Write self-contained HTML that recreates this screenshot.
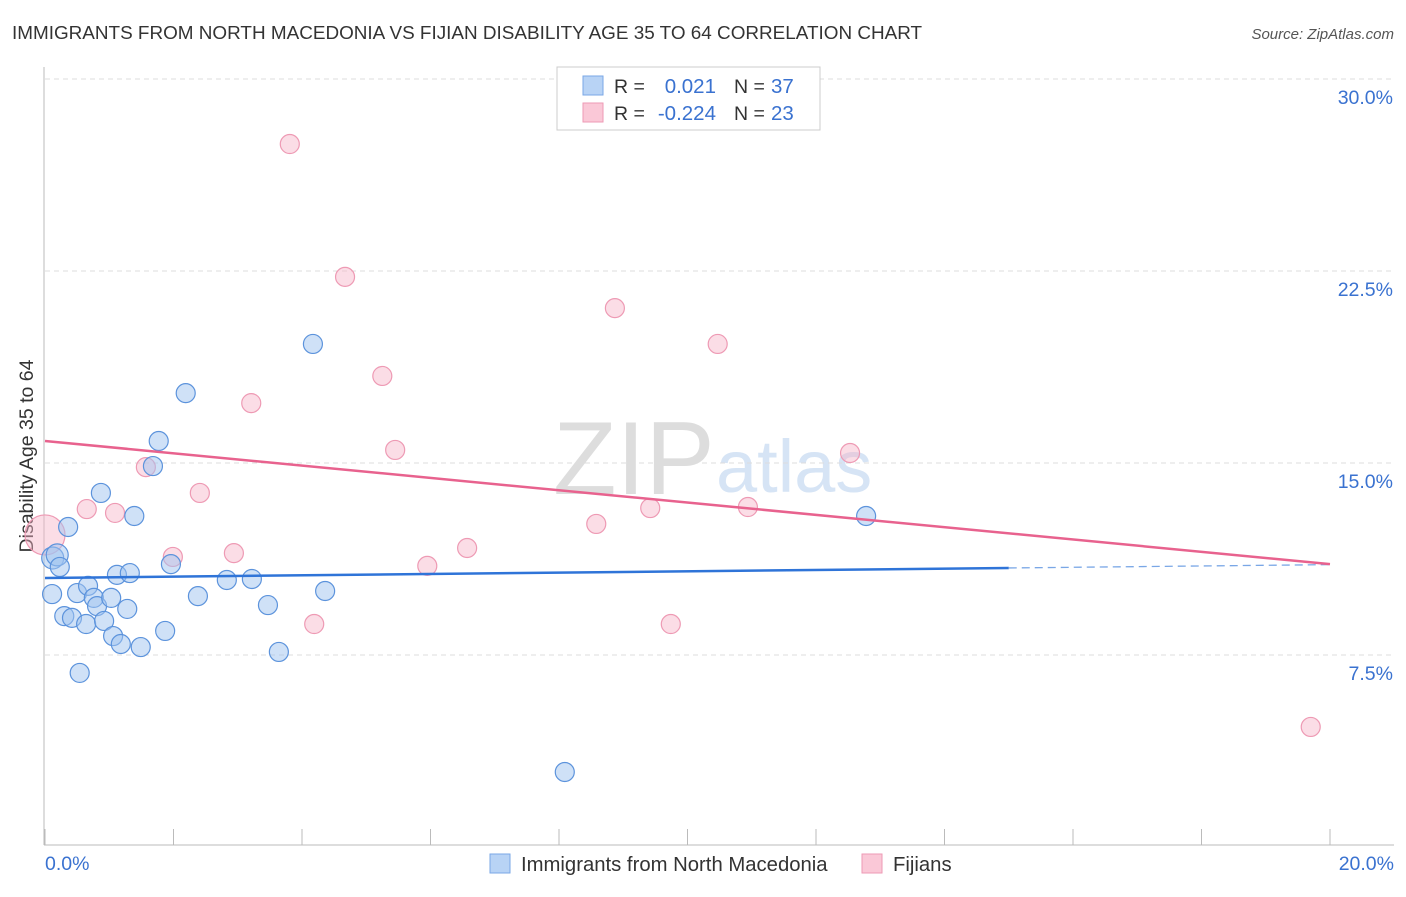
<!DOCTYPE html>
<html><head><meta charset="utf-8"><style>
body{margin:0;background:#fff;font-family:"Liberation Sans",sans-serif;}
svg text{font-family:"Liberation Sans",sans-serif;}
</style></head><body>
<svg id="c" width="1406" height="892">
<text x="12" y="39" font-size="18.9" fill="#333">IMMIGRANTS FROM NORTH MACEDONIA VS FIJIAN DISABILITY AGE 35 TO 64 CORRELATION CHART</text>
<text x="1394" y="39" font-size="15" fill="#555" text-anchor="end" font-style="italic">Source: ZipAtlas.com</text>
<text x="33" y="456" font-size="19.5" fill="#333" text-anchor="middle" transform="rotate(-90 33 456)">Disability Age 35 to 64</text>
<text x="553" y="494" font-size="104" fill="#ddd" font-family="Liberation Serif">ZIP</text>
<text x="716" y="492" font-size="74" fill="#d6e4f5">atlas</text>
<g id="grid"></g><g id="axes"></g><g id="marks"></g>
<g>
<rect x="557" y="67" width="263" height="63" fill="#fff" stroke="#ccc"/>
<rect x="583" y="76" width="20" height="19" fill="#b8d3f5" stroke="#7aa7e6"/>
<rect x="583" y="103" width="20" height="19" fill="#fac8d7" stroke="#ee9ab4"/>
<text x="614" y="93" font-size="19.5" fill="#333">R =</text><text x="716" y="93" font-size="20.5" fill="#3a72d0" text-anchor="end">0.021</text>
<text x="734" y="93" font-size="19.5" fill="#333">N =</text><text x="771" y="93" font-size="20.5" fill="#3a72d0">37</text>
<text x="614" y="120" font-size="19.5" fill="#333">R =</text><text x="716" y="120" font-size="20.5" fill="#3a72d0" text-anchor="end">-0.224</text>
<text x="734" y="120" font-size="19.5" fill="#333">N =</text><text x="771" y="120" font-size="20.5" fill="#3a72d0">23</text>
</g>
<g>
<rect x="490" y="854" width="20" height="19" fill="#b8d3f5" stroke="#7aa7e6"/>
<text x="521" y="871" font-size="20.3" fill="#333">Immigrants from North Macedonia</text>
<rect x="862" y="854" width="20" height="19" fill="#fac8d7" stroke="#ee9ab4"/>
<text x="893" y="871" font-size="20.3" fill="#333">Fijians</text>
</g>
</svg>
<script>
const yTicks=[7.5,15,22.5,30];
const yTickLabels=["7.5%","15.0%","22.5%","30.0%"];
const xTickCount=10;
const xMin=0,xMax=20,yMin=0,yMax=30;
const blueX=[0.12,0.19,0.23,0.11,0.36,0.50,0.30,0.42,0.54,0.67,0.64,0.76,0.81,0.87,0.92,1.03,1.06,1.12,1.18,1.28,1.32,1.39,1.49,1.68,1.77,1.87,1.96,2.19,2.38,2.83,3.22,3.47,3.64,4.17,4.36,8.09,12.78];
const blueY=[11.29,11.41,10.94,9.88,12.5,9.92,9.02,8.95,6.80,10.20,8.71,9.73,9.41,13.83,8.83,9.73,8.24,10.63,7.93,9.30,10.70,12.93,7.81,14.88,15.86,8.44,11.05,17.73,9.80,10.43,10.47,9.45,7.62,19.65,10.0,2.93,12.93];
const pinkX=[0,0.65,1.09,1.57,1.99,2.41,2.94,3.21,3.81,4.19,4.67,5.25,5.45,5.95,6.57,8.58,8.87,9.42,9.74,10.47,10.94,12.53,19.70];
const pinkY=[12.19,13.2,13.05,14.84,11.33,13.83,11.48,17.34,27.46,8.71,22.27,18.4,15.51,10.98,11.68,12.62,21.05,13.24,8.71,19.65,13.28,15.39,4.69];
const blueTrend=[10.51,0.026];
const pinkTrend=[15.86,-0.2405];
const blueSolidEnd=15.0;
const X0=45,X1=1330,Y0=847,Y1=79;
const sx=v=>X0+(v-xMin)/(xMax-xMin)*(X1-X0);
const sy=v=>Y0-(v-yMin)/(yMax-yMin)*(Y0-Y1);
const NS="http://www.w3.org/2000/svg";
function mk(p,t,a){const e=document.createElementNS(NS,t);for(const k in a)e.setAttribute(k,a[k]);p.appendChild(e);return e;}
const grid=document.getElementById('grid'),axes=document.getElementById('axes'),marks=document.getElementById('marks');
yTicks.forEach((t,i)=>{
 const l=mk(grid,'line',{x1:45,x2:1394,y1:sy(t),y2:sy(t),stroke:'#ddd','stroke-dasharray':'5,4'});
 
 
 const tx=mk(grid,'text',{x:1393,y:sy(t)+25,'font-size':19.5,fill:'#3a72d0','text-anchor':'end'});
 tx.textContent=yTickLabels[i];
 
 
});
const ya=mk(axes,'line',{x1:44,x2:44,y1:67,y2:845,stroke:'#bbb'});


const xa=mk(axes,'line',{x1:44,x2:1394,y1:845,y2:845,stroke:'#bbb'});


for(let i=0;i<=xTickCount;i++){
 const v=xMin+(xMax-xMin)*i/xTickCount;
 const t=mk(axes,'line',{x1:sx(v),x2:sx(v),y1:829,y2:845,stroke:'#bbb'});
 
 
}
[[xMin,'start',45,'0.0%'],[xMax,'end',1394,'20.0%']].forEach(d=>{
 const t=mk(axes,'text',{x:d[2],y:870,'font-size':19.5,fill:'#3a72d0','text-anchor':d[1]});
 t.textContent=d[3];
 
 
});
pinkX.forEach((x,i)=>{
 const c=mk(marks,'circle',{cx:sx(x),cy:sy(pinkY[i]),r:i==0?20:9.5,fill:'rgba(247,180,200,0.45)',stroke:'#ee9ab4','stroke-width':1.2});
 
 
});
blueX.forEach((x,i)=>{
 const c=mk(marks,'circle',{cx:sx(x),cy:sy(blueY[i]),r:i<2?11:9.5,fill:'rgba(160,195,240,0.5)',stroke:'#5c93dc','stroke-width':1.2});
 
 
});
const bl=mk(marks,'line',{x1:sx(xMin),y1:sy(blueTrend[0]),x2:sx(blueSolidEnd),y2:sy(blueTrend[0]+blueTrend[1]*blueSolidEnd),stroke:'#2f74d8','stroke-width':2.5});


const bd=mk(marks,'line',{x1:sx(blueSolidEnd),y1:sy(blueTrend[0]+blueTrend[1]*blueSolidEnd),x2:sx(xMax),y2:sy(blueTrend[0]+blueTrend[1]*xMax),stroke:'#7aa7e6','stroke-width':1.3,'stroke-dasharray':'8,5'});


const pl=mk(marks,'line',{x1:sx(xMin),y1:sy(pinkTrend[0]),x2:sx(xMax),y2:sy(pinkTrend[0]+pinkTrend[1]*xMax),stroke:'#e8628e','stroke-width':2.5});


</script>
</body></html>
